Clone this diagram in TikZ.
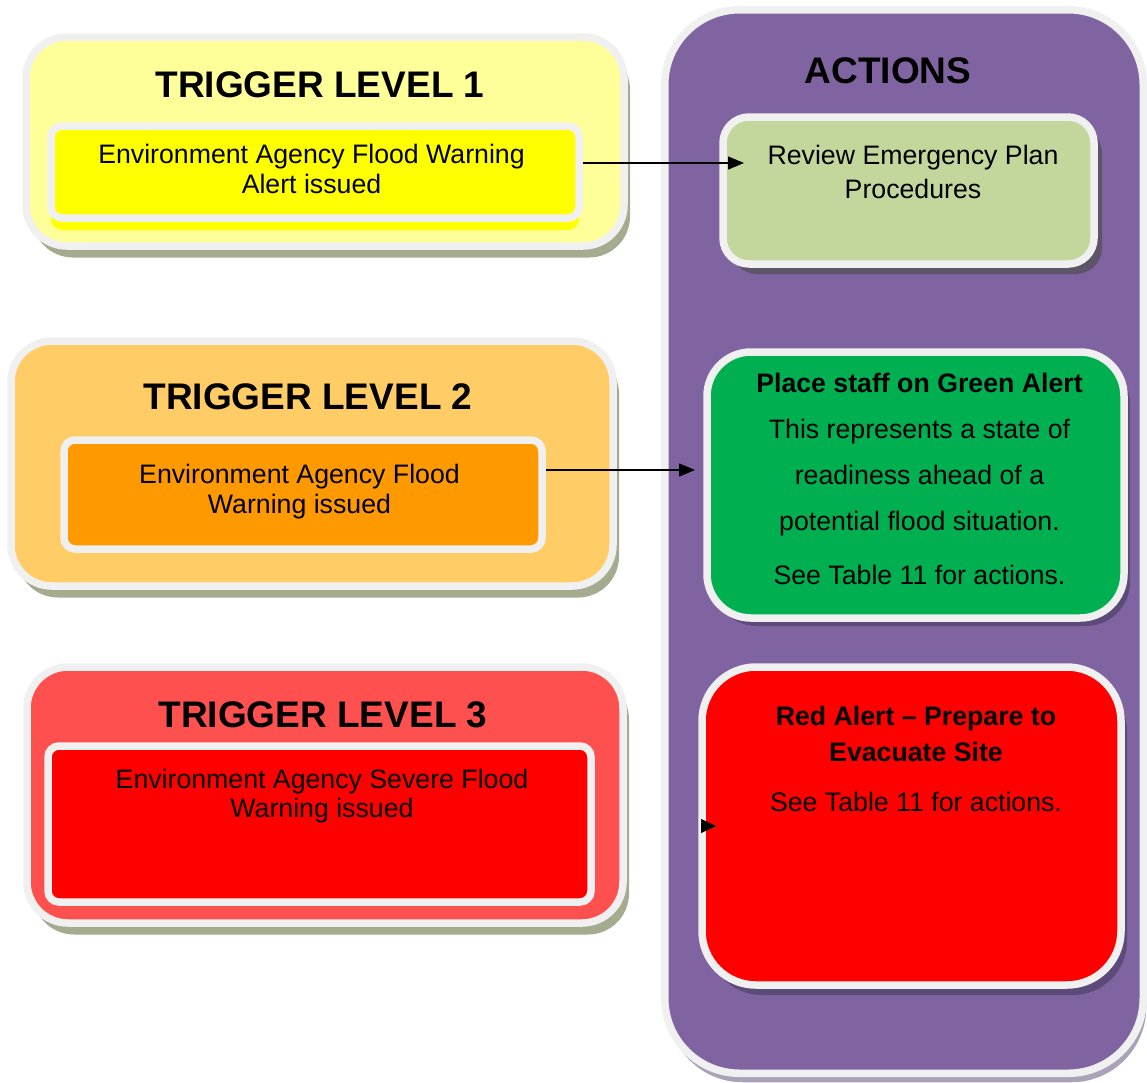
\documentclass[tikz,border=0pt]{standalone}
\usepackage{fontspec}
\setmainfont{Liberation Sans}
\usetikzlibrary{shadows,arrows.meta}
\definecolor{bordc}{HTML}{F0F0F0}
\definecolor{lyellow}{HTML}{FFFF99}
\definecolor{byellow}{HTML}{FFFF00}
\definecolor{lorange}{HTML}{FFCC66}
\definecolor{borange}{HTML}{FF9900}
\definecolor{lred}{HTML}{FF5050}
\definecolor{bred}{HTML}{FF0000}
\definecolor{purp}{HTML}{8064A2}
\definecolor{revc}{HTML}{C3D69B}
\definecolor{greenc}{HTML}{00B050}
\definecolor{shgreen}{HTML}{A5AB8F}
\definecolor{shpanel}{HTML}{AAA2B6}
\definecolor{shdark}{HTML}{5E5468}
\definecolor{shpurp}{HTML}{5C4A78}
\tikzset{
  box/.style={draw=bordc, line width=7.5pt, rectangle, inner sep=0pt},
  outerbox/.style={box, rounded corners=41pt,
    drop shadow={shadow xshift=6pt, shadow yshift=-11.5pt, fill=shgreen, opacity=1}},
  innerbox/.style={box, rounded corners=11pt},
  titletxt/.style={font=\fontsize{37}{44}\selectfont\bfseries, anchor=base, inner sep=0pt},
  bodytxt/.style={font=\fontsize{26.7}{32}\selectfont, anchor=base, inner sep=0pt},
  boldtxt/.style={font=\fontsize{26.7}{32}\selectfont\bfseries, anchor=base, inner sep=0pt},
  arr/.style={line width=1.4pt, -{Triangle[length=16pt,width=13pt]}},
}
\begin{document}
\begin{tikzpicture}[x=1pt,y=-1pt]
\useasboundingbox (0,0) rectangle (1147,1082);
% ---- left column: trigger levels
\node[outerbox, fill=lyellow, minimum width=598pt, minimum height=209pt] (trig1) at (325,141.5) {};
\node[innerbox, fill=byellow, minimum width=528pt, minimum height=92pt,
  drop shadow={shadow xshift=0pt, shadow yshift=-12pt, fill=byellow, opacity=1}] (in1) at (315,172) {};
\node[titletxt] (tt1) at (320,97) {TRIGGER LEVEL 1};
\node[bodytxt] (b1a) at (311.5,163) {Environment Agency Flood Warning};
\node[bodytxt] (b1b) at (311.5,193.5) {Alert issued};

\node[outerbox, fill=lorange, minimum width=602pt, minimum height=245pt] (trig2) at (312,463.5) {};
\node[innerbox, fill=borange, minimum width=478pt, minimum height=109pt] (in2) at (303,494.5) {};
\node[titletxt] (tt2) at (308,409) {TRIGGER LEVEL 2};
\node[bodytxt] (b2a) at (299.5,483) {Environment Agency Flood};
\node[bodytxt] (b2b) at (299.5,513) {Warning issued};

\node[outerbox, fill=lred, minimum width=596pt, minimum height=256pt] (trig3) at (325,795) {};
\node[innerbox, fill=bred, minimum width=543pt, minimum height=156pt] (in3) at (319.5,824) {};
\node[titletxt] (tt3) at (323,727) {TRIGGER LEVEL 3};
\node[bodytxt] (b3a) at (322,788) {Environment Agency Severe Flood};
\node[bodytxt] (b3b) at (322,817) {Warning issued};

% ---- right column: actions
\node[box, fill=purp, rounded corners=75pt, minimum width=478.5pt, minimum height=1063.5pt,
  drop shadow={shadow xshift=3pt, shadow yshift=-9pt, fill=shpanel, opacity=1}] (panel) at (904,541.5) {};
\node[titletxt] (ta) at (888,83) {ACTIONS};

\node[box, fill=revc, rounded corners=26pt, minimum width=371pt, minimum height=147pt,
  drop shadow={shadow xshift=8pt, shadow yshift=-10pt, fill=shdark, opacity=1}] (review) at (908.5,190.5) {};
\node[bodytxt] (r1) at (913,164) {Review Emergency Plan};
\node[bodytxt] (r2) at (913,198) {Procedures};

\node[box, fill=greenc, rounded corners=44pt, minimum width=417pt, minimum height=266pt,
  drop shadow={shadow xshift=6pt, shadow yshift=-8pt, fill=shpurp, opacity=1}] (green) at (915.5,485) {};
\node[boldtxt] (g1) at (919.5,392) {Place staff on Green Alert};
\node[bodytxt] (g2) at (919.5,438) {This represents a state of};
\node[bodytxt] (g3) at (919.5,484) {readiness ahead of a};
\node[bodytxt] (g4) at (919.5,530) {potential flood situation.};
\node[bodytxt] (g5) at (919.5,584) {See Table 11 for actions.};

\node[box, fill=bred, rounded corners=54pt, minimum width=419pt, minimum height=318pt,
  drop shadow={shadow xshift=6pt, shadow yshift=-10pt, fill=shpurp, opacity=1}] (redbox) at (911.5,826) {};
\node[boldtxt] (ra1) at (916,725) {Red Alert – Prepare to};
\node[boldtxt] (ra2) at (916,761) {Evacuate Site};
\node[bodytxt] (ra3) at (916,811) {See Table 11 for actions.};

% ---- connectors
\coordinate (a1) at (744,163);
\coordinate (a2) at (695,470);
\coordinate (a3s) at (701,826);
\coordinate (a3) at (716,826);
\draw[arr] (in1.east |- a1) -- (a1);
\draw[arr] (in2.east |- a2) -- (a2);
\draw[line width=0.1pt, -{Triangle[length=15pt,width=14pt]}] (a3s) -- (a3);
\end{tikzpicture}
\end{document}
